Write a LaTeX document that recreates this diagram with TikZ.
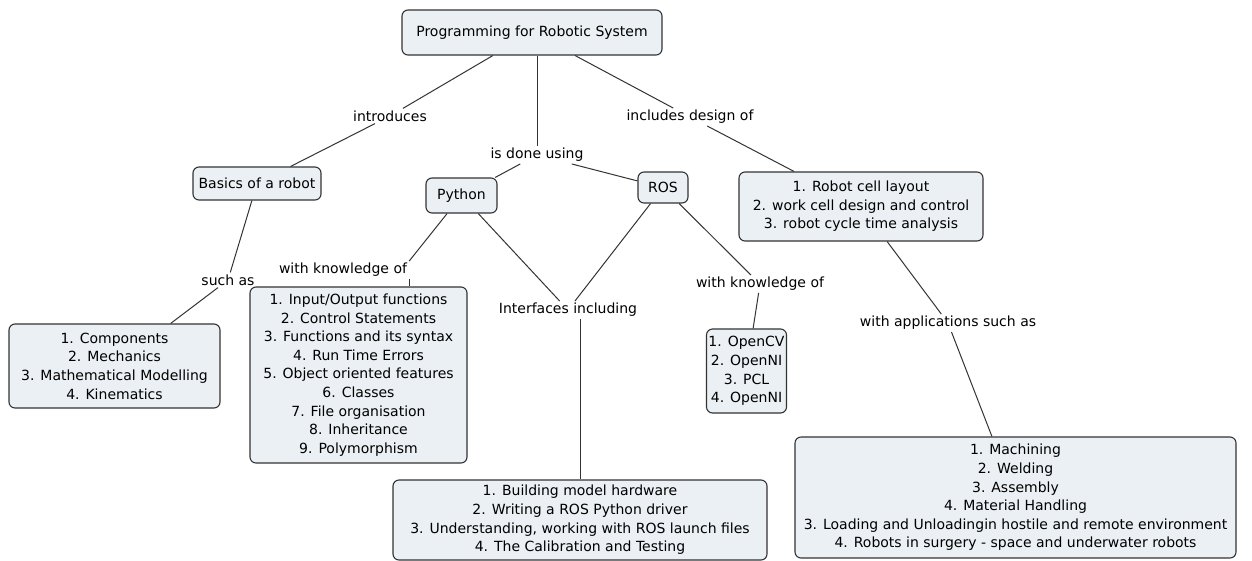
\documentclass[tikz,border=0pt]{standalone}
\usepackage{fontspec}
\setmainfont{DejaVu Sans}
\definecolor{boxfill}{HTML}{EAF0F3}
\definecolor{edge}{HTML}{333333}
\begin{document}
\begin{tikzpicture}[x=1pt,y=-1pt,
  box/.style={draw=edge, fill=boxfill, rounded corners=6pt, line width=1.1pt,
    align=center, font=\fontsize{14}{18.6}\selectfont, inner sep=0pt},
  lbl/.style={font=\fontsize{14}{18.6}\selectfont, inner sep=2pt},
  conn/.style={draw=edge, line width=1pt}]
\useasboundingbox (0,0) rectangle (1252,560);

% concepts
\node[box, minimum width=260, minimum height=45] (root) at (532,32.5) {Programming for Robotic System};
\node[box, minimum width=128, minimum height=33] (basics) at (257,183.5) {Basics of a robot};
\node[box, minimum width=71, minimum height=35] (py) at (461.5,195.5) {Python};
\node[box, minimum width=50, minimum height=31] (ros) at (663,187.5) {ROS};
\node[box, minimum width=244, minimum height=69] (cell) at (861,206.5) {1. Robot cell layout\\2. work cell design and control\\3. robot cycle time analysis};
\node[box, minimum width=211, minimum height=84] (comp) at (114.5,366) {1. Components\\2. Mechanics\\3. Mathematical Modelling\\4. Kinematics};
\node[box, minimum width=217, minimum height=176] (plist) at (358.5,375) {1. Input/Output functions\\2. Control Statements\\3. Functions and its syntax\\4. Run Time Errors\\5. Object oriented features\\6. Classes\\7. File organisation\\8. Inheritance\\9. Polymorphism};
\node[box, minimum width=80, minimum height=84] (cv) at (746.5,371) {1. OpenCV\\2. OpenNI\\3. PCL\\4. OpenNI};
\node[box, minimum width=374, minimum height=80] (hw) at (580,520) {1. Building model hardware\\2. Writing a ROS Python driver\\3. Understanding, working with ROS launch files\\4. The Calibration and Testing};
\node[box, minimum width=441, minimum height=121] (apps) at (1015.5,497.5) {1. Machining\\2. Welding\\3. Assembly\\4. Material Handling\\3. Loading and Unloadingin hostile and remote environment\\4. Robots in surgery - space and underwater robots};

% linking phrases
\node[lbl] (intro) at (390,116) {introduces};
\node[lbl] (done) at (537,155) {is done using};
\node[lbl] (incl) at (690,117) {includes design of};
\node[lbl] (such) at (228,280) {such as};
\node[lbl] (kn1) at (343,270) {with knowledge of};
\node[lbl] (intf) at (568,310) {Interfaces including};
\node[lbl] (kn2) at (760,284) {with knowledge of};
\node[lbl] (appl) at (948,323) {with applications such as};

% connectors
\draw[conn] (root) -- (intro);
\draw[conn] (intro) -- (basics);
\draw[conn] (root.south -| done.north) -- (done);
\draw[conn] (done) -- (py);
\draw[conn] (done) -- (ros);
\draw[conn] (root) -- (incl);
\draw[conn] (incl) -- (cell);
\draw[conn] (basics) -- (such);
\draw[conn] (such) -- (comp);
\draw[conn] (py) -- (kn1.north east);
\draw[conn] (kn1.south east) -- (plist.north -| kn1.south east);
\draw[conn] (py) -- (intf);
\draw[conn] (ros) -- (intf);
\draw[conn] (intf.south -| hw.north) -- (hw.north);
\draw[conn] (ros) -- (kn2);
\draw[conn] (kn2) -- (cv);
\draw[conn] (cell) -- (appl);
\draw[conn] (appl) -- (apps);
\end{tikzpicture}
\end{document}
